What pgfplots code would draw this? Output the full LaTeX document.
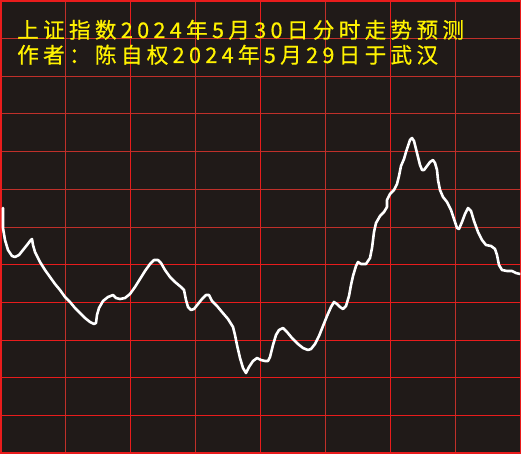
\documentclass[border=0pt]{standalone}
\usepackage{pgfplots}
\pgfplotsset{compat=1.18}
\usepackage{fontspec}
\newfontfamily\cjk[LetterSpace=20,FakeBold=0.6]{Noto Sans CJK SC}
\definecolor{bg}{HTML}{201A18}
\definecolor{gridA}{HTML}{E81C1C}
\definecolor{gridB}{HTML}{C0302A}
\begin{document}
\begin{tikzpicture}
\fill[bg] (0,0) rectangle (521bp,454bp);
\begin{axis}[
  at={(1bp,1bp)}, anchor=south west,
  scale only axis, width=519.3bp, height=452bp,
  xmin=1, xmax=520.3, ymin=1, ymax=453, y dir=reverse,
  axis line style={gridA, line width=1.2bp},
  xtick={130.75,260.5,390.25},
  minor xtick={65.875,195.625,325.375,455.125},
  ytick={264.67,302.33,340,377.67,415.33},
  minor ytick={38.67,76.33,114,151.67,189.33,227},
  xticklabels={}, yticklabels={},
  major tick length=0pt, minor tick length=0pt,
  xmajorgrids, ymajorgrids, xminorgrids, yminorgrids,
  major grid style={gridA, line width=1bp},
  minor grid style={gridB, line width=1bp},
  clip=true,
]
\addplot[white, line width=2.6bp, line join=round, line cap=round] coordinates {
(3,208) (3,228) (5,240) (8,250) (12,256) (15,257) (19,255) (23,250) (27,245) (30,241) (32,239)
(33,245) (35,252) (40,262) (45,270) (50,277) (55,284) (60,290) (65,297) (70,302) (75,308)
(80,313) (85,318) (90,322) (94,324) (96,323) (97,315) (99,308) (103,301) (108,297) (113,295)
(116,298) (120,299) (125,298) (130,294) (135,287) (140,279) (145,271) (150,264) (154,260)
(158,260) (161,263) (165,270) (170,277) (175,282) (181,287) (184,290) (186,300) (188,307)
(191,310) (194,309) (198,304) (202,299) (206,295) (209,295) (212,301) (217,306) (222,312)
(228,319) (233,327) (235,335) (237,345) (240,358) (243,368) (246,373) (249,367) (253,361)
(257,358) (261,360) (265,361) (268,361) (270,357) (273,345) (276,335) (279,330) (283,328)
(287,332) (292,338) (298,344) (303,348) (308,350) (311,349) (315,344) (319,336) (323,326)
(327,316) (331,307) (334,302) (337,304) (340,307) (343,309) (346,306) (349,296) (351,285)
(353,276) (356,266) (358,262) (361,264) (366,264) (370,258) (372,248) (374,232) (376,223)
(380,216) (384,212) (387,207) (387,200) (390,194) (394,190) (397,184) (399,176) (401,166)
(404,159) (406,152) (408,146) (410,140) (412,138) (414,141) (416,149) (418,157) (420,165)
(422,170) (424,170) (427,166) (430,162) (433,160) (435,163) (437,170) (438,180) (440,190)
(443,197) (447,202) (451,210) (454,219) (457,228) (459,229) (462,222) (465,214) (468,208)
(471,211) (474,221) (478,232) (482,240) (486,245) (491,246) (495,249) (497,255) (499,265)
(502,270) (507,271) (512,271) (516,273) (520,274)
};
\end{axis}
\node[anchor=base west, inner sep=0pt, text=yellow, font=\cjk\fontsize{21.6bp}{25bp}\selectfont] at (17bp,416bp) {上证指数2024年5月30日分时走势预测};
\node[anchor=base west, inner sep=0pt, text=yellow, font=\cjk\fontsize{21.6bp}{25bp}\selectfont] at (17bp,391bp) {作者：陈自权2024年5月29日于武汉};
\pgfresetboundingbox
\path (0,0) rectangle (521bp,454bp);
\end{tikzpicture}
\end{document}
